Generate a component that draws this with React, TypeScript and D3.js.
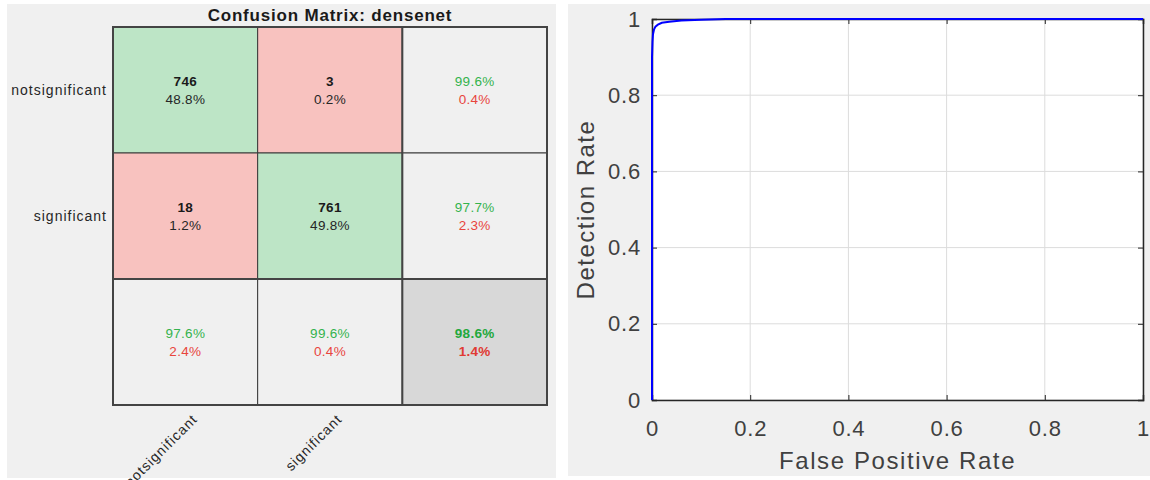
import React, { useEffect, useRef } from 'react';
import * as d3 from 'd3';

// confusion matrix values (rows = output class, cols = target class)
const classes = ['notsignificant', 'significant'];
const counts = [
  [746, 3],
  [18, 761],
];
const cellPct = [
  ['48.8%', '0.2%'],
  ['1.2%', '49.8%'],
];
const rowSummary = [
  ['99.6%', '0.4%'],
  ['97.7%', '2.3%'],
];
const colSummary = [
  ['97.6%', '2.4%'],
  ['99.6%', '0.4%'],
];
const overall = ['98.6%', '1.4%'];

// ROC curve
const fpr = [0, 0, 0.001, 0.002, 0.004, 0.007, 0.012, 0.02, 0.035, 0.06, 0.1, 0.15, 0.3, 1];
const tpr = [0, 0.9, 0.94, 0.96, 0.972, 0.98, 0.985, 0.99, 0.993, 0.996, 0.998, 1, 1, 1];
const ticks = [0, 0.2, 0.4, 0.6, 0.8, 1];

const FONT = '"Liberation Sans", Arial, Helvetica, sans-serif';
const GREEN_BG = '#bde5c6';
const RED_BG = '#f8c2bf';
const GREEN_TX = '#34b34d';
const RED_TX = '#e8453d';

const App = () => {
  const svgRef = useRef<SVGSVGElement>(null);

  useEffect(() => {
    const svg = d3.select(svgRef.current);
    svg.selectAll('*').remove();

    // ---------- left panel: confusion matrix ----------
    svg.append('rect').attr('x', 7).attr('y', 4).attr('width', 549).attr('height', 474).attr('fill', '#f0f0f0');

    const x = d3.scaleBand<number>().domain([0, 1, 2]).range([113, 547]);
    const y = d3.scaleBand<number>().domain([0, 1, 2]).range([27, 405]);
    const bw = x.bandwidth();
    const bh = y.bandwidth();

    const g = svg.append('g').attr('font-family', FONT);

    g.append('text')
      .attr('x', (113 + 547) / 2)
      .attr('y', 21)
      .attr('text-anchor', 'middle')
      .attr('font-size', 17)
      .attr('letter-spacing', 0.8)
      .attr('font-weight', 'bold')
      .attr('fill', '#1a1a1a')
      .text('Confusion Matrix: densenet');

    const cells: { r: number; c: number; bg: string; top: string; bot: string; topFill: string; botFill: string; bold: boolean }[] = [];
    for (let r = 0; r < 2; r++) {
      for (let c = 0; c < 2; c++) {
        cells.push({
          r, c,
          bg: r === c ? GREEN_BG : RED_BG,
          top: String(counts[r][c]),
          bot: cellPct[r][c],
          topFill: '#1a1a1a',
          botFill: '#262626',
          bold: true,
        });
      }
      cells.push({ r, c: 2, bg: '#f0f0f0', top: rowSummary[r][0], bot: rowSummary[r][1], topFill: GREEN_TX, botFill: RED_TX, bold: false });
    }
    for (let c = 0; c < 2; c++) {
      cells.push({ r: 2, c, bg: '#f0f0f0', top: colSummary[c][0], bot: colSummary[c][1], topFill: GREEN_TX, botFill: RED_TX, bold: false });
    }
    cells.push({ r: 2, c: 2, bg: '#d8d8d8', top: overall[0], bot: overall[1], topFill: '#22a83c', botFill: '#e03a33', bold: true });

    const cg = g.selectAll('g.cell').data(cells).enter().append('g');
    cg.append('rect')
      .attr('x', (d) => x(d.c)!)
      .attr('y', (d) => y(d.r)!)
      .attr('width', bw)
      .attr('height', bh)
      .attr('fill', (d) => d.bg)
      .attr('stroke', '#3a3a3a')
      .attr('stroke-width', 1);
    cg.append('text')
      .attr('x', (d) => x(d.c)! + bw / 2)
      .attr('y', (d) => y(d.r)! + bh / 2 - 4)
      .attr('text-anchor', 'middle')
      .attr('font-size', 13.5)
      .attr('letter-spacing', 0.3)
      .attr('font-weight', (d) => (d.bold ? 'bold' : 'normal'))
      .attr('fill', (d) => d.topFill)
      .text((d) => d.top);
    cg.append('text')
      .attr('x', (d) => x(d.c)! + bw / 2)
      .attr('y', (d) => y(d.r)! + bh / 2 + 14)
      .attr('text-anchor', 'middle')
      .attr('font-size', 13.5)
      .attr('letter-spacing', 0.3)
      .attr('font-weight', (d) => (d.r === 2 && d.c === 2 ? 'bold' : 'normal'))
      .attr('fill', (d) => d.botFill)
      .text((d) => d.bot);

    // thick outer frame and summary separators
    g.append('rect')
      .attr('x', 113).attr('y', 27).attr('width', 434).attr('height', 378)
      .attr('fill', 'none').attr('stroke', '#444').attr('stroke-width', 2);
    g.append('line').attr('x1', x(2)!).attr('x2', x(2)!).attr('y1', 27).attr('y2', 405).attr('stroke', '#444').attr('stroke-width', 2);
    g.append('line').attr('x1', 113).attr('x2', 547).attr('y1', y(2)!).attr('y2', y(2)!).attr('stroke', '#444').attr('stroke-width', 2);

    // row labels
    g.selectAll('text.rl').data(classes).enter().append('text')
      .attr('x', 107)
      .attr('y', (d, i) => y(i)! + bh / 2 + 5)
      .attr('text-anchor', 'end')
      .attr('font-size', 14)
      .attr('letter-spacing', 1)
      .attr('fill', '#262626')
      .text((d) => d);

    // column labels, rotated
    g.selectAll('text.cl').data(classes).enter().append('text')
      .attr('transform', (d, i) => `translate(${x(i)! + bw / 2 + 13},${420}) rotate(-45)`)
      .attr('text-anchor', 'end')
      .attr('font-size', 14)
      .attr('letter-spacing', 1)
      .attr('fill', '#262626')
      .text((d) => d);

    // ---------- right panel: ROC ----------
    svg.append('rect').attr('x', 568).attr('y', 4).attr('width', 582).attr('height', 472).attr('fill', '#f0f0f0');

    const L = 652, R = 1143, T = 19, B = 400;
    const xs = d3.scaleLinear().domain([0, 1]).range([L, R]);
    const ys = d3.scaleLinear().domain([0, 1]).range([B, T]);

    const r = svg.append('g').attr('font-family', FONT);
    r.append('rect').attr('x', L).attr('y', T).attr('width', R - L).attr('height', B - T).attr('fill', '#fff');

    // grid
    r.selectAll('line.gx').data(ticks).enter().append('line')
      .attr('x1', (d) => xs(d)).attr('x2', (d) => xs(d)).attr('y1', T).attr('y2', B)
      .attr('stroke', '#dcdcdc').attr('stroke-width', 1);
    r.selectAll('line.gy').data(ticks).enter().append('line')
      .attr('x1', L).attr('x2', R).attr('y1', (d) => ys(d)).attr('y2', (d) => ys(d))
      .attr('stroke', '#dcdcdc').attr('stroke-width', 1);

    // axes with inward ticks
    const axB = r.append('g').attr('transform', `translate(0,${B})`)
      .call(d3.axisBottom(xs).tickValues(ticks).tickSize(-5).tickPadding(20).tickFormat(d3.format('~g')));
    const axL = r.append('g').attr('transform', `translate(${L},0)`)
      .call(d3.axisLeft(ys).tickValues(ticks).tickSize(-5).tickPadding(11).tickFormat(d3.format('~g')));
    r.append('g').attr('transform', `translate(0,${T})`)
      .call(d3.axisTop(xs).tickValues(ticks).tickSize(-5).tickFormat(() => ''));
    r.append('g').attr('transform', `translate(${R},0)`)
      .call(d3.axisRight(ys).tickValues(ticks).tickSize(-5).tickFormat(() => ''));
    r.selectAll('.domain').attr('stroke', '#262626').attr('stroke-width', 1.5);
    r.selectAll('.tick line').attr('stroke', '#262626');
    [axB, axL].forEach((a) => a.selectAll('text').attr('font-size', 22).attr('letter-spacing', 0.8).attr('fill', '#404040').attr('font-family', FONT));
    axB.selectAll('text').attr('dy', '0.71em');

    // ROC line
    r.append('path')
      .datum(tpr)
      .attr('d', d3.line<number>().x((d, i) => xs(fpr[i])).y((d) => ys(d)))
      .attr('fill', 'none')
      .attr('stroke', '#0000ff')
      .attr('stroke-width', 2);

    r.append('text')
      .attr('x', (L + R) / 2)
      .attr('y', 469)
      .attr('text-anchor', 'middle')
      .attr('font-size', 24)
      .attr('letter-spacing', 1.6)
      .attr('fill', '#404040')
      .text('False Positive Rate');
    r.append('text')
      .attr('transform', `translate(594,${(T + B) / 2}) rotate(-90)`)
      .attr('text-anchor', 'middle')
      .attr('font-size', 24)
      .attr('letter-spacing', 1.5)
      .attr('fill', '#404040')
      .text('Detection Rate');
  }, []);

  return (
    <svg
      ref={svgRef}
      width={1150}
      height={480}
      style={{ position: 'fixed', left: 0, top: 0, background: '#fff' }}
    />
  );
};

export default App;
